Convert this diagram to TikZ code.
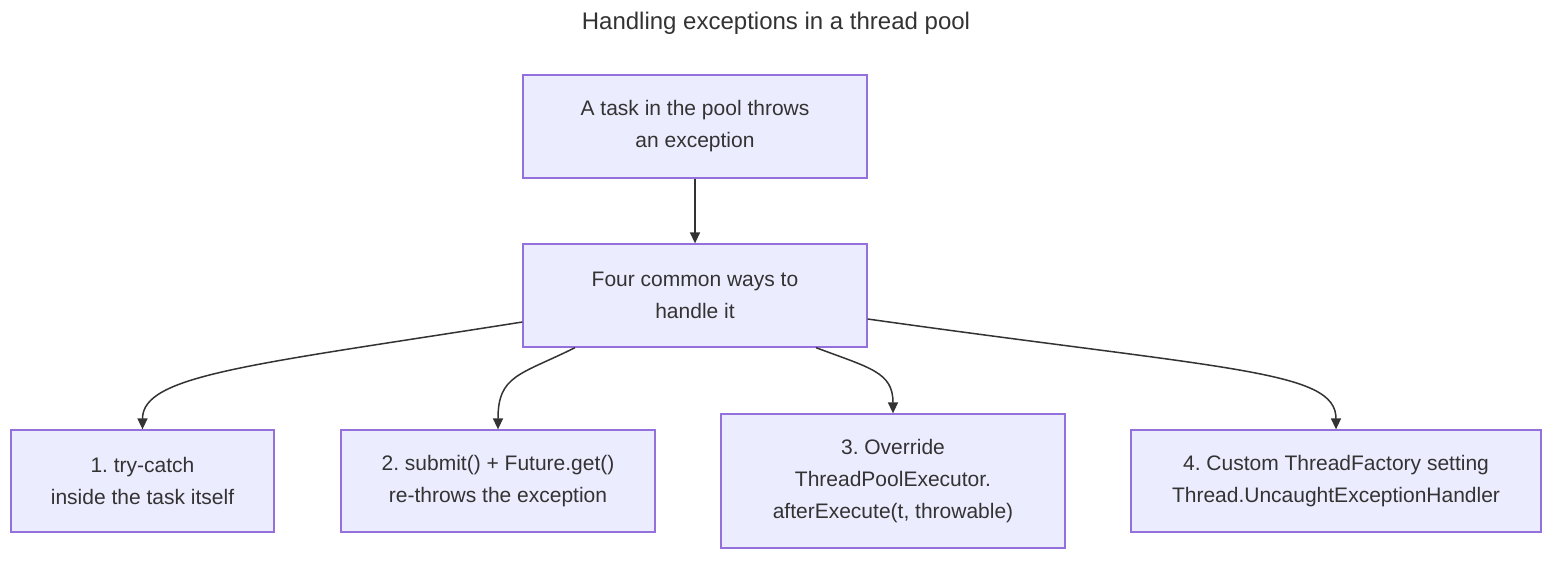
\documentclass[tikz,border=0pt]{standalone}
\usepackage{fontspec}
\setmainfont{Liberation Sans}
\usetikzlibrary{arrows.meta}
\frenchspacing
\definecolor{nodefill}{HTML}{ECECFF}
\definecolor{nodeborder}{HTML}{9370DB}
\definecolor{ink}{HTML}{333333}
\tikzset{
  box/.style={draw=nodeborder, fill=nodefill, line width=1.3pt, text=ink,
    align=center, inner sep=0pt, font=\fontsize{21}{32}\selectfont},
  edge/.style={draw=ink, line width=1.5pt, -{Triangle[length=11pt,width=10pt]}},
}
\begin{document}
\begin{tikzpicture}[x=1pt,y=-1pt]
\useasboundingbox[fill=white] (0,0) rectangle (1568,566);
\node[text=ink, font=\fontsize{24}{28}\selectfont] (title) at (776,23) {Handling exceptions in a thread pool};
\node[box, minimum width=344pt, minimum height=103pt] (A) at (695,126.5) {A task in the pool throws\\an exception};
\node[box, minimum width=344pt, minimum height=103pt] (B) at (695,295.5) {Four common ways to\\handle it};
\node[box, minimum width=263pt, minimum height=102pt] (C1) at (142.5,481) {1. try-catch\\inside the task itself};
\node[box, minimum width=314pt, minimum height=102pt] (C2) at (498,481) {2. submit() + Future.get()\\re-throws the exception};
\node[box, minimum width=344pt, minimum height=134pt] (C3) at (893,481) {3. Override\\ThreadPoolExecutor.\\afterExecute(t, throwable)};
\node[box, minimum width=410pt, minimum height=102pt] (C4) at (1336,481) {4. Custom ThreadFactory setting\\Thread.UncaughtExceptionHandler};
\draw[edge] (A.south) -- (B.north);
\draw[edge] ([yshift=-26.5pt]B.west) .. controls (250,365) and (142.5,375) .. (C1.north);
\draw[edge] ([xshift=-120pt]B.south) .. controls (520,375) and (498,375) .. (C2.north);
\draw[edge] ([xshift=121pt]B.south) .. controls (870,368) and (893,372) .. (C3.north);
\draw[edge] ([yshift=-23.5pt]B.east) .. controls (1230,370) and (1336,370) .. (C4.north);
\end{tikzpicture}
\end{document}
